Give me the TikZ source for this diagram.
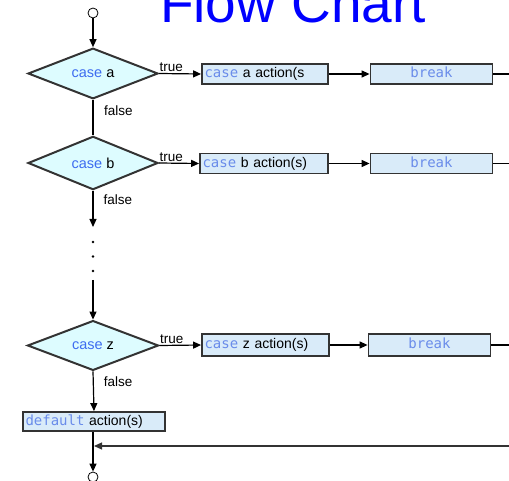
\documentclass[tikz,border=0pt]{standalone}
\usepackage{fontspec}
\setmainfont{Liberation Sans}
\newfontfamily\monof{DejaVu Sans Mono}
\usetikzlibrary{shapes.geometric,arrows.meta}
\definecolor{dfill}{HTML}{DDFCFF}
\definecolor{bfill}{HTML}{D9EBF9}
\definecolor{bord}{HTML}{333333}
\definecolor{kw}{HTML}{3D6CF0}
\definecolor{kwm}{HTML}{6A8CEA}
\definecolor{ttl}{HTML}{0000FF}
\newcommand{\fsz}[1]{\fontsize{#1}{#1}\selectfont}
\newcommand{\kwd}[1]{{\monof\color{kwm}#1}}
\tikzset{
  dec/.style={draw=bord, line width=2pt, fill=dfill, diamond, inner sep=0pt,
    minimum width=130pt, minimum height=46pt, font=\fsz{14.5}},
  actbox/.style={draw=bord, line width=1.8pt, fill=bfill, inner xsep=2.5pt, inner ysep=0pt,
    minimum height=20pt, text height=10.5pt, text depth=3pt, font=\fsz{14}, align=left},
  brkbox/.style={actbox, align=center, text width=117pt},
  term/.style={circle, draw=black, line width=0.8pt, fill=white, minimum size=10pt, inner sep=0pt},
  conn/.style={draw=black, line width=1.2pt},
  arr/.style={conn, -{Triangle[length=8pt,width=7pt]}},
  lbl/.style={font=\fsz{13.5}, inner sep=0pt},
  dotc/.style={circle, fill=black, minimum size=2.6pt, inner sep=0pt},
}
\begin{document}
\begin{tikzpicture}[x=1pt,y=-1pt]
\useasboundingbox (0,0) rectangle (509,481);
\clip (0,0) rectangle (509,481);
\node[font=\fsz{55}, text=ttl, anchor=base, inner sep=0pt] (title) at (293,23) {Flow Chart};

\node[term] (start) at (93,13) {};
\node[dec] (da) at (93,73.5) {\textcolor{kw}{case} a};
\node[actbox, text width=121pt] (ba) at (265,74) {\kwd{case} a action(s};
\node[brkbox] (bra) at (431.5,74) {\kwd{break}};
\coordinate (ra) at (509,74);

\node[dec] (db) at (93,163) {\textcolor{kw}{case} b};
\node[actbox, text width=123pt] (bb) at (264,163.5) {\kwd{case} b action(s)};
\node[brkbox] (brb) at (431.5,163.5) {\kwd{break}};
\coordinate (rb) at (509,163.5);

\coordinate (bend) at (93,227);
\node[dotc] (d1) at (93,242) {};
\node[dotc] (d2) at (93,256.5) {};
\node[dotc] (d3) at (93,271) {};
\coordinate (zst) at (93,280);

\node[dec, minimum width=131pt, minimum height=45pt] (dz) at (93,345.5) {\textcolor{kw}{case} z};
\node[actbox, text width=122pt, minimum height=22pt] (bz) at (265.5,345) {\kwd{case} z action(s)};
\node[brkbox, minimum height=22pt] (brz) at (429.5,345) {\kwd{break}};
\coordinate (rz) at (509,345);

\node[actbox, text width=137pt, minimum height=19pt] (def) at (94,421.5) {\kwd{default} action(s)};
\node[term] (end) at (93,477) {};
\coordinate (rr) at (509,446);
\coordinate (jn) at (94,446);

\draw[arr] (start) -- (da.north);
\draw[arr] (da.east) -- node[lbl, pos=0, anchor=south west, yshift=1pt] {true} (ba.west);
\draw[arr] (ba.east) -- (bra.west);
\draw[conn] (bra.east) -- (ra);
\draw[conn, line width=2pt] (da.south) -- node[lbl, anchor=west, pos=0.3, xshift=10pt] {false} (db.north);

\draw[arr] (db.east) -- node[lbl, pos=0, anchor=south west, yshift=1pt] {true} (bb.west);
\draw[arr] (bb.east) -- (brb.west);
\draw[conn] (brb.east) -- (rb);
\draw[arr] (db.south) -- node[lbl, anchor=west, pos=0.25, xshift=10pt] {false} (bend);

\draw[arr] (zst) -- (dz.north);
\draw[arr] (dz.east) -- node[lbl, pos=0, anchor=south west, yshift=1pt] {true} (bz.west);
\draw[arr] (bz.east) -- (brz.west);
\draw[conn] (brz.east) -- (rz);
\draw[arr] (dz.south) -- node[lbl, anchor=west, pos=0.25, xshift=10pt] {false} (def.north);

\draw[arr] (def.south -| end) -- (end.north);
\draw[arr, draw=bord] (rr) -- (jn);
\end{tikzpicture}
\end{document}
